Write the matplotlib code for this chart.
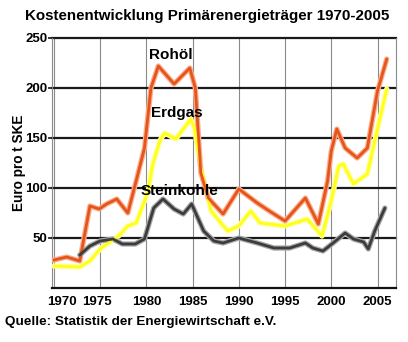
import numpy as np
import matplotlib
matplotlib.use("Agg")
import matplotlib.pyplot as plt
import matplotlib.transforms as mtransforms

plt.rcParams['font.family'] = ['Liberation Sans', 'DejaVu Sans']

# data (year, Euro pro t SKE)
oel_jahre = [1970, 1971.4, 1972.8, 1973.9, 1974.9, 1975.7, 1976.8, 1978.0, 1978.9, 1979.8,
             1980.5, 1981.3, 1983.0, 1984.7, 1985.3, 1985.9, 1986.7, 1988.3, 1990.0, 1992.0,
             1993.3, 1995.0, 1997.2, 1998.6, 1999.6, 2000.0, 2000.6, 2001.5, 2002.8, 2003.9,
             2005.0, 2006.0]
oel_werte = [28, 31, 27, 82, 79, 84, 89, 75, 107, 140,
             200, 222, 204, 220, 200, 115, 90, 74, 99, 85,
             77, 67, 90, 64, 107, 137, 159, 140, 130, 140,
             197, 229]

gas_jahre = [1970, 1972.8, 1973.9, 1975.0, 1976.2, 1977.0, 1978.0, 1978.9, 1979.8, 1980.2,
             1980.7, 1981.5, 1982.0, 1983.2, 1984.8, 1985.2, 1985.9, 1987.0, 1988.8, 1990.0,
             1991.3, 1992.3, 1995.0, 1997.4, 1999.0, 2000.0, 2000.8, 2001.3, 2002.4, 2003.9,
             2004.7, 2006.0]
gas_werte = [22, 21, 27, 39, 47, 52, 62, 65, 87, 97,
             124, 148, 155, 149, 169, 160, 120, 77, 57, 62,
             77, 65, 62, 69, 52, 87, 122, 124, 104, 114,
             147, 199]

kohle_jahre = [1972.8, 1973.9, 1975.0, 1976.4, 1977.4, 1978.8, 1979.8, 1980.8, 1981.8, 1983.0,
               1984.0, 1984.9, 1986.2, 1987.3, 1988.3, 1990.0, 1992.0, 1993.8, 1995.5, 1997.2,
               1998.0, 1999.1, 2000.2, 2001.5, 2002.4, 2003.5, 2004.0, 2004.7, 2005.8]
kohle_werte = [33, 42, 47, 49, 44, 44, 49, 80, 89, 79,
               74, 84, 57, 47, 45, 50, 45, 40, 40, 45,
               40, 37, 45, 55, 49, 46, 39, 57, 80]

x_ticks = [1970, 1975, 1980, 1985, 1990, 1995, 2000, 2005]
y_ticks = [50, 100, 150, 200, 250]

fig = plt.figure(figsize=(4.08, 3.42), dpi=100)
ax = fig.add_axes([52/408, 1 - 288/342, (396 - 52)/408, (288 - 38)/342])

def draw(xs, ys, main, halo):
    ax.plot(xs, ys, color=halo, lw=3.8, solid_joinstyle='round', solid_capstyle='round', zorder=3)
    ax.plot(xs, ys, color=main, lw=2.0, solid_joinstyle='round', solid_capstyle='round', zorder=4)

draw(gas_jahre, gas_werte, '#ffff1a', '#ffff9a')
draw(oel_jahre, oel_werte, '#e8531c', '#f6b08c')
draw(kohle_jahre, kohle_werte, '#3c3c3c', '#a8a8a8')

ax.set_xlim(1969.8, 2007.0)
ax.set_ylim(0, 250)
ax.set_xticks(x_ticks)
ax.set_yticks(y_ticks)
ax.grid(axis='y', color='#1a1a1a', lw=1.6, zorder=1)
ax.grid(axis='x', color='#8a8a8a', lw=0.8, zorder=1)
for gl in ax.get_ygridlines():
    gl.set_clip_on(False)

ax.spines['top'].set_visible(False)
ax.spines['left'].set_color('#8a8a8a')
ax.spines['left'].set_linewidth(0.8)
ax.spines['right'].set_color('#8a8a8a')
ax.spines['right'].set_linewidth(0.8)
ax.spines['bottom'].set_color('#111111')
ax.spines['bottom'].set_linewidth(1.6)

ax.tick_params(axis='x', length=0, pad=6, labelsize=9.5)
ax.tick_params(axis='y', length=3, width=1.2, color='#1a1a1a', pad=0.5, labelsize=9.5)
for lab in ax.get_xticklabels() + ax.get_yticklabels():
    lab.set_fontweight('bold')

# the first x labels sit a little off their gridlines in the reference
xl = ax.get_xticklabels()
xl[0].set_transform(xl[0].get_transform() + mtransforms.ScaledTranslation(8/100, 0, fig.dpi_scale_trans))
xl[1].set_transform(xl[1].get_transform() + mtransforms.ScaledTranslation(-3/100, 0, fig.dpi_scale_trans))

ax.set_ylabel('Euro pro t SKE', fontsize=9.8, fontweight='bold', labelpad=-1)

ax.text(1982.7, 233, 'Rohöl', fontsize=11, fontweight='bold', ha='center', va='center', zorder=6)
ax.text(1983.3, 175, 'Erdgas', fontsize=11, fontweight='bold', ha='center', va='center', zorder=6)
ax.text(1983.6, 97, 'Steinkohle', fontsize=11, fontweight='bold', ha='center', va='center', zorder=6)

fig.text(207/408, 1 - 16/342, 'Kostenentwicklung Primärenergieträger 1970-2005',
         fontsize=10.9, fontweight='bold', ha='center', va='center')
fig.text(5/408, 1 - 322/342, 'Quelle: Statistik der Energiewirtschaft e.V.',
         fontsize=9.7, fontweight='bold', ha='left', va='center')

fig.savefig('out.png', dpi=100)
